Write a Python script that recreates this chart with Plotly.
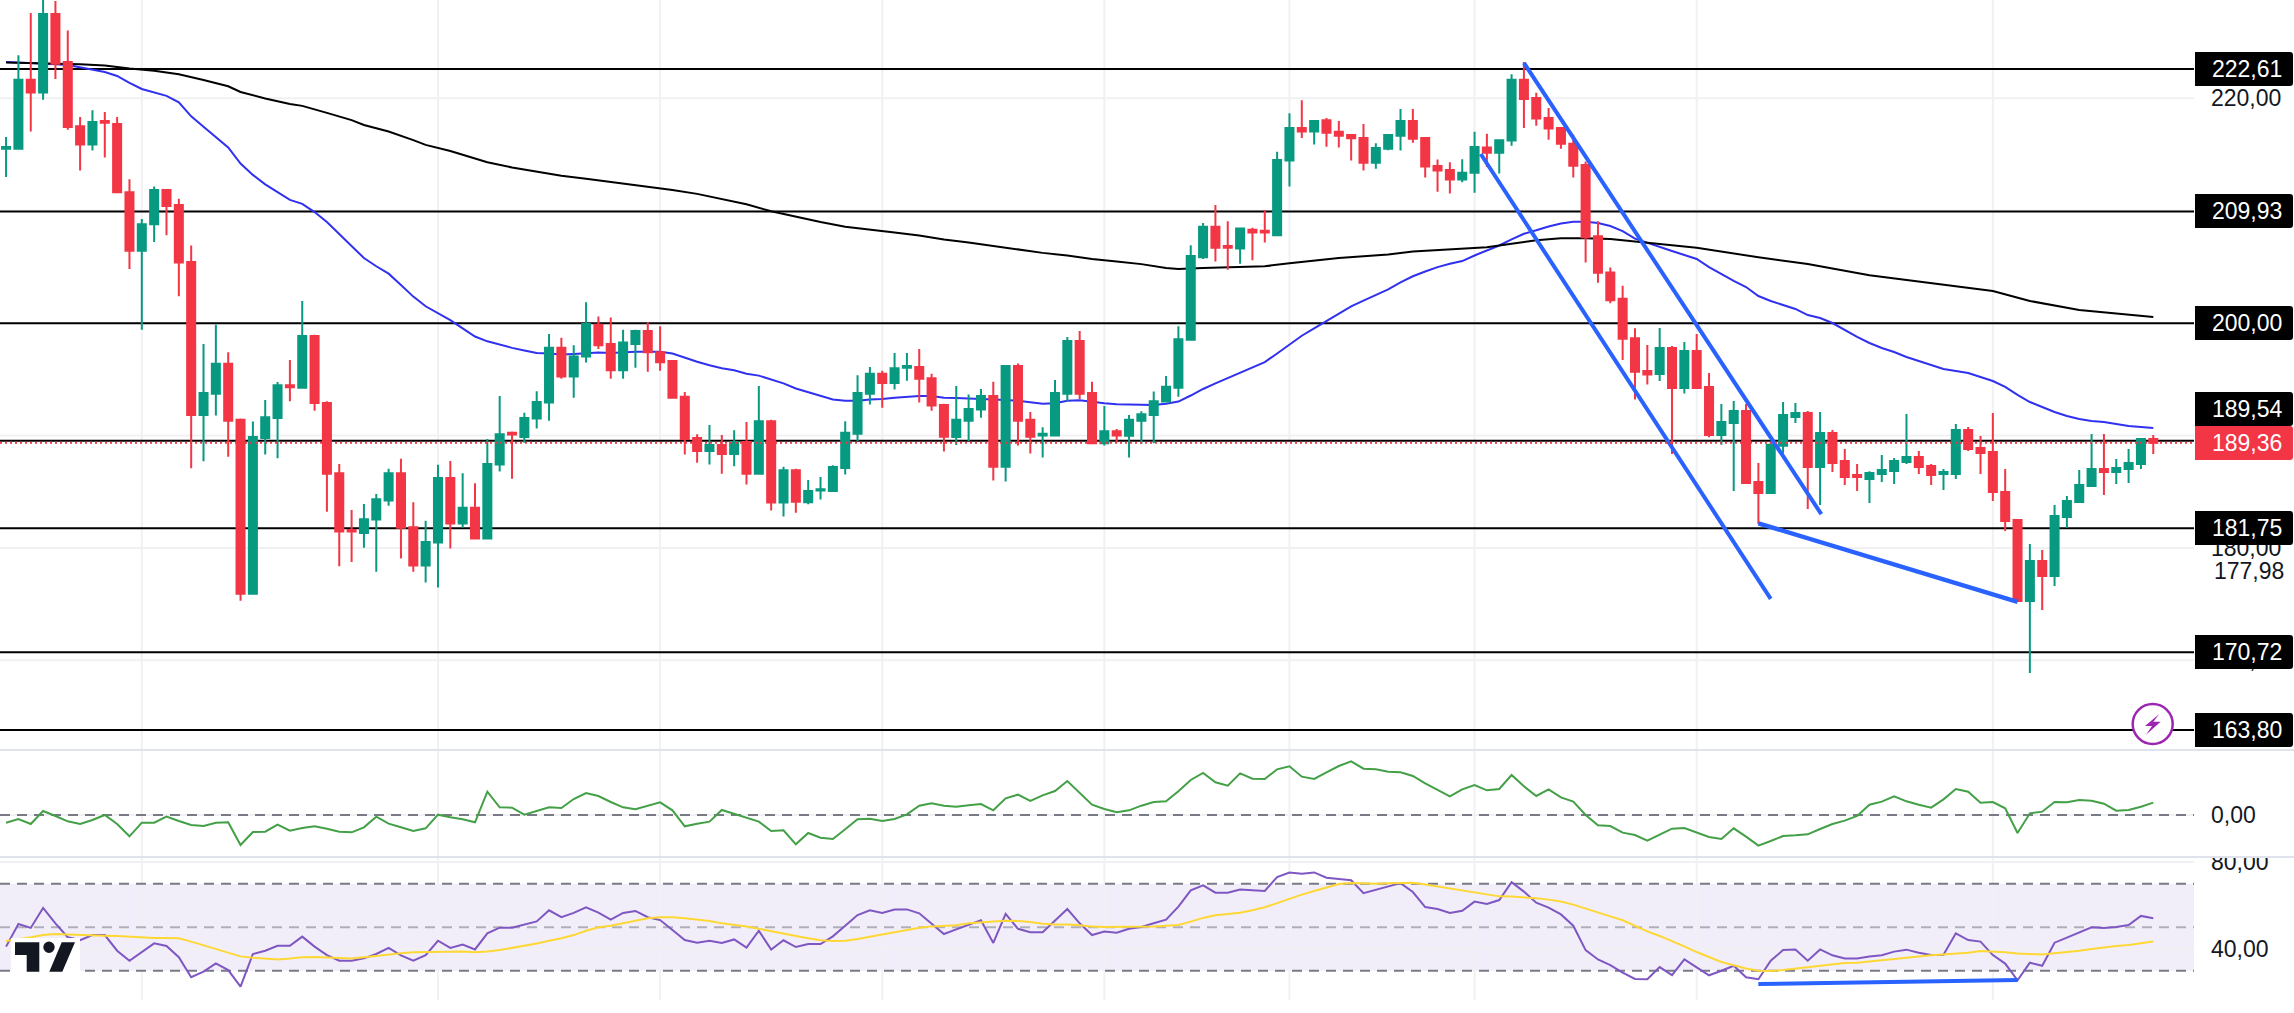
import plotly.graph_objects as go

# ---------- data ----------
candle_index = list(range(175))
opens = [215.51,215.51,221.65,220.53,227.51,223.23,217.52,215.90,217.98,217.71,
211.65,206.44,208.80,211.85,210.50,205.44,191.82,193.71,196.38,191.40,
175.93,189.78,191.55,194.48,194.25,198.85,192.90,186.65,181.60,181.33,
182.52,184.22,186.65,181.83,178.44,180.48,186.23,182.18,183.57,180.83,
187.42,190.24,189.86,191.51,192.94,197.80,195.26,197.03,199.85,198.15,
195.80,198.15,199.31,197.42,196.64,193.44,189.78,188.62,189.16,188.35,
189.43,186.61,191.28,184.03,186.92,184.07,185.11,185.07,187.12,190.16,
193.71,195.49,194.68,196.03,196.10,195.10,192.71,189.86,191.32,192.32,
193.52,187.23,196.18,191.40,190.01,190.01,193.71,198.42,193.79,189.31,
190.39,189.97,191.32,191.82,193.02,194.25,198.53,205.87,208.57,206.87,
206.64,208.30,208.22,207.83,214.47,217.36,217.05,218.06,217.02,216.74,
216.47,214.28,215.51,216.67,217.98,216.47,213.97,213.62,212.77,213.39,
215.63,215.16,216.24,221.65,220.03,218.25,217.36,215.97,214.08,207.72,
204.51,202.16,198.65,195.74,195.48,197.79,194.23,197.52,194.32,190.05,
191.12,192.18,185.87,184.89,189.10,191.65,192.00,187.20,190.23,187.73,
186.49,186.13,186.58,186.84,187.65,188.09,187.29,186.58,186.58,190.49,
188.89,188.54,184.98,182.49,175.28,178.84,177.50,182.75,184.09,185.51,
187.02,186.76,187.02,187.47,189.69]
highs = [216.55,223.84,227.59,229.50,228.67,226.04,218.33,218.94,218.79,218.33,
212.81,209.26,212.15,211.85,211.07,206.91,198.15,199.85,197.42,191.51,
191.24,193.17,194.76,196.72,201.97,198.96,193.06,187.46,183.37,183.91,
184.80,187.04,187.93,184.07,182.41,187.39,187.73,186.65,185.76,189.70,
193.52,190.36,192.02,193.94,199.04,198.69,198.03,201.85,200.58,200.50,
199.42,199.42,200.08,199.73,196.64,193.87,190.12,190.94,190.05,190.47,
191.21,194.41,191.40,187.23,187.04,186.04,186.31,187.35,191.28,195.37,
196.10,195.76,197.34,197.34,197.69,195.49,192.83,194.41,193.64,194.14,
194.79,196.22,196.41,192.09,190.74,194.95,198.77,199.31,194.79,192.63,
190.59,191.82,192.17,193.91,195.29,199.73,206.94,208.91,210.50,209.07,
208.45,208.49,210.07,215.24,218.67,219.83,218.06,218.25,217.98,216.74,
217.71,216.01,216.78,219.06,219.06,216.55,214.55,214.31,214.58,217.02,
216.86,216.32,222.15,223.23,220.49,219.14,217.40,216.78,214.39,209.07,
204.94,203.32,199.54,198.06,199.57,197.97,198.32,199.03,195.56,192.81,
193.07,192.81,187.56,189.45,192.98,192.90,192.18,192.09,190.49,188.80,
187.47,186.82,188.27,188.00,191.92,188.62,187.47,187.02,191.03,190.76,
189.96,192.00,187.02,182.49,180.35,179.82,183.82,184.62,186.93,190.14,
190.14,187.91,188.80,189.78,190.05]
lows = [213.00,215.51,217.05,219.87,221.72,217.21,213.58,215.36,214.74,211.65,
204.82,199.42,207.22,207.83,202.39,187.08,187.70,191.78,188.12,175.31,
175.85,188.31,187.97,193.06,194.21,192.21,183.22,178.36,178.74,180.02,
177.89,183.76,179.05,177.89,176.93,176.47,179.94,181.79,180.75,180.79,
186.81,186.15,189.35,190.63,191.32,195.06,193.37,196.49,197.69,195.06,
195.06,196.03,195.68,195.76,193.37,188.31,187.58,187.42,186.61,187.27,
185.65,186.61,183.33,182.79,183.14,183.88,184.30,184.99,186.54,189.51,
192.75,192.48,194.10,194.87,192.94,192.21,188.58,189.16,189.51,191.59,
186.00,185.92,189.12,188.39,188.04,190.01,193.06,193.25,189.31,189.12,
189.39,188.04,189.24,189.31,193.02,193.44,198.53,205.71,205.48,204.75,
205.29,205.60,207.18,207.72,212.15,216.47,215.90,215.70,215.63,214.47,
213.58,213.74,215.39,215.36,216.05,212.96,211.69,211.54,212.54,211.61,
213.89,213.31,215.78,217.36,217.56,216.32,215.51,212.96,205.40,203.59,
201.77,196.72,193.21,194.53,194.85,188.36,193.73,194.17,189.84,189.19,
185.07,185.69,182.13,184.89,188.39,191.12,183.46,183.82,186.76,185.60,
185.07,184.00,185.87,185.69,187.47,186.58,185.60,185.15,186.13,188.62,
186.58,184.18,181.51,175.19,168.87,174.48,176.61,181.77,184.09,185.51,
184.71,185.69,185.78,187.02,188.36]
closes = [215.67,221.65,220.53,227.51,223.07,217.44,215.90,217.90,217.83,211.65,
206.44,208.80,211.85,210.42,205.40,191.82,193.79,196.38,191.32,175.93,
189.86,191.63,194.48,194.29,198.85,192.90,186.61,181.45,181.45,182.56,
184.34,186.65,181.79,178.44,180.52,186.23,182.18,183.57,180.83,187.46,
190.12,190.09,191.55,192.98,197.80,195.26,197.03,199.92,198.03,195.80,
198.27,199.31,197.42,196.53,193.37,189.70,188.62,189.16,188.35,189.43,
186.61,191.28,184.03,186.92,184.11,185.07,185.22,187.19,190.24,193.79,
195.49,194.68,195.99,196.18,195.06,192.67,189.89,191.40,192.36,193.52,
187.23,196.18,191.32,189.89,190.16,193.79,198.42,193.71,189.31,190.39,
190.01,191.40,191.90,193.06,194.33,198.57,205.98,208.57,206.71,206.71,
208.41,208.06,208.06,214.51,217.36,217.05,217.98,216.94,216.67,216.44,
214.28,215.59,216.74,217.98,216.40,213.93,213.58,212.77,213.39,215.67,
215.16,216.28,221.65,219.95,218.21,217.32,215.97,214.00,207.64,204.48,
202.04,198.61,195.68,195.42,197.79,194.23,197.52,194.23,190.05,191.20,
192.18,185.78,184.89,189.19,191.83,192.00,187.20,190.23,187.56,186.31,
186.31,186.67,186.93,187.73,188.09,187.20,186.49,186.76,190.49,188.80,
188.45,184.98,182.40,175.28,178.84,177.50,182.84,184.18,185.60,187.02,
186.76,187.11,187.56,189.69,189.36]

ma50 = [223.23,223.19,223.11,223.07,223.03,222.96,222.76,222.57,222.34,221.99,
221.37,220.83,220.53,220.22,219.64,218.40,217.48,216.59,215.63,214.20,
213.19,212.35,211.65,210.96,210.61,209.88,208.99,207.91,206.83,205.79,
205.06,204.40,203.40,202.36,201.50,200.89,200.27,199.54,198.81,198.38,
198.07,197.80,197.57,197.34,197.30,197.22,197.26,197.34,197.38,197.34,
197.42,197.46,197.46,197.46,197.30,196.91,196.57,196.26,195.99,195.80,
195.49,195.33,194.95,194.64,194.18,193.87,193.52,193.21,193.10,193.10,
193.21,193.25,193.37,193.44,193.52,193.52,193.37,193.33,193.29,193.25,
193.25,193.17,193.10,192.98,192.83,192.87,193.10,193.13,192.98,192.87,
192.79,192.75,192.71,192.71,192.83,193.02,193.56,194.14,194.64,195.10,
195.57,196.03,196.53,197.30,198.11,198.88,199.54,200.19,200.89,201.50,
202.01,202.51,203.01,203.63,204.17,204.59,204.98,205.29,205.52,206.02,
206.48,206.91,207.45,207.95,208.26,208.60,208.87,209.03,209.03,208.91,
208.64,208.18,207.52,207.13,206.77,206.42,206.06,205.71,204.99,204.37,
203.75,203.21,202.41,201.97,201.61,201.26,200.72,200.46,200.01,199.39,
198.77,198.23,197.79,197.43,196.99,196.63,196.28,195.92,195.74,195.56,
195.21,194.85,194.32,193.61,192.98,192.54,192.09,191.74,191.47,191.29,
191.20,191.03,190.85,190.76,190.67]

ma200_index = [0,2,4,6,8,10,12,14,16,18,19,21,23,24,26,28,29,31,33,34,36,38,39,41,43,45,47,49,51,53,54,56,58,60,62,64,66,68,70,72,74,76,78,80,82,84,86,88,90,92,94,95,97,100,102,104,106,108,110,112,114,116,118,120,122,124,126,128,130,132,137,142,146,151,156,161,164,168,174]
ma200 = [223.19,223.15,223.11,223.03,222.92,222.65,222.46,222.15,221.64,221.07,220.57,219.99,219.49,219.33,218.71,218.06,217.63,217.05,216.28,215.86,215.32,214.62,214.31,213.85,213.47,213.12,212.85,212.58,212.31,212.04,211.85,211.50,211.04,210.57,209.95,209.45,208.99,208.57,208.34,208.06,207.79,207.45,207.18,206.87,206.60,206.25,206.02,205.71,205.48,205.25,204.90,204.82,204.90,204.98,205.06,205.33,205.56,205.79,205.94,206.10,206.37,206.48,206.60,206.75,207.06,207.37,207.56,207.56,207.49,207.25,206.71,205.86,205.26,204.26,203.54,202.86,201.97,201.17,200.55]

momentum = [-0.23,-0.12,-0.27,0.12,-0.03,-0.19,-0.27,-0.15,0.00,-0.27,
-0.64,-0.23,-0.23,-0.05,-0.18,-0.30,-0.33,-0.23,-0.22,-0.90,
-0.51,-0.50,-0.29,-0.47,-0.39,-0.34,-0.41,-0.50,-0.52,-0.37,
-0.05,-0.26,-0.37,-0.48,-0.40,0.01,-0.07,-0.13,-0.22,0.70,
0.23,0.22,0.01,0.12,0.23,0.21,0.48,0.66,0.57,0.39,
0.23,0.17,0.27,0.38,0.14,-0.34,-0.26,-0.20,0.15,0.04,
-0.07,-0.20,-0.48,-0.46,-0.88,
-0.54,-0.68,-0.72,-0.43,-0.13,-0.11,-0.18,-0.12,0.02,0.28,
0.35,0.28,0.25,0.29,0.33,0.14,0.50,0.61,0.42,0.59,
0.72,1.02,0.66,0.31,0.18,0.08,0.14,0.28,0.39,0.41,
0.71,1.05,1.26,0.98,0.88,1.25,1.09,1.08,1.37,1.46,
1.15,1.08,1.28,1.47,1.61,1.39,1.37,1.30,1.28,1.17,
0.95,0.75,0.56,0.77,0.90,0.74,0.78,1.20,0.86,0.57,
0.77,0.53,0.40,0.00,-0.31,-0.33,-0.53,-0.60,-0.77,-0.59,
-0.41,-0.39,-0.53,-0.66,-0.72,-0.40,-0.65,-0.92,-0.78,-0.63,
-0.61,-0.58,-0.42,-0.27,-0.17,-0.03,0.31,0.40,0.56,0.41,
0.31,0.22,0.47,0.78,0.70,0.37,0.39,0.20,-0.54,0.05,
0.10,0.39,0.38,0.45,0.43,0.34,0.13,0.15,0.25,0.37]

rsi = [41.1,51.5,49.7,58.9,51.8,45.4,44.1,46.4,46.4,39.2,
34.6,38.6,42.6,41.4,36.2,27.0,29.6,33.4,30.3,22.7,
37.7,39.2,41.5,41.5,45.7,41.1,37.2,34.6,34.6,35.7,
37.7,40.5,37.1,34.6,37.2,43.8,40.5,42.0,39.8,47.2,
49.8,49.8,51.3,52.7,57.8,54.6,56.6,59.2,56.7,53.5,
56.6,57.5,54.6,53.3,48.7,44.1,42.9,43.8,42.8,44.4,
40.6,48.4,39.7,44.0,40.9,
42.3,42.3,45.8,50.7,55.6,57.8,56.6,58.2,58.2,56.4,
51.6,46.9,49.0,51.0,53.2,42.8,56.1,49.3,47.7,47.7,
53.0,58.4,51.8,46.4,48.0,47.5,49.3,50.1,51.8,53.5,
59.5,67.0,69.3,65.9,65.9,67.4,67.0,66.7,73.1,75.2,
74.6,75.2,72.8,72.2,71.6,65.7,67.3,68.8,70.3,66.2,
59.3,58.4,56.6,57.6,61.8,60.7,62.5,70.7,66.4,61.3,
59.0,55.9,50.7,39.5,35.2,32.6,29.1,26.2,26.1,31.7,
28.0,35.2,31.6,27.9,30.0,32.3,27.0,26.1,34.6,39.5,
39.8,34.6,39.8,37.1,35.6,35.6,36.5,37.1,38.8,39.7,
38.3,37.2,37.4,47.2,44.1,43.4,37.2,33.3,25.6,33.7,
32.3,42.9,45.2,47.7,50.0,49.7,50.1,51.0,55.2,54.1]

rsi_ma = [43.7,44.4,45.4,46.4,46.9,46.7,46.4,46.1,46.1,46.0,
45.7,45.1,45.1,45.1,44.9,43.4,41.7,39.8,38.3,36.6,
36.0,35.6,35.2,35.6,36.2,36.3,36.0,35.6,35.6,36.2,
36.9,37.4,38.0,38.5,38.6,38.8,38.8,38.8,38.5,38.8,
39.5,40.5,41.4,42.5,43.8,44.9,46.4,48.4,50.0,50.7,
51.8,52.9,54.1,54.6,54.6,54.1,53.6,52.9,51.8,51.2,
50.3,49.3,48.1,47.2,46.0,
44.9,44.0,43.7,43.8,44.6,45.7,46.6,47.7,48.7,49.8,
50.4,50.6,50.9,51.8,52.4,52.7,53.0,52.9,52.4,51.6,
51.3,51.3,50.9,50.3,50.1,50.1,50.1,50.1,50.3,50.7,
51.0,52.6,54.3,55.5,56.2,56.7,57.8,59.2,61.1,63.1,
65.0,66.7,68.4,69.9,70.3,70.0,70.0,70.2,70.5,70.5,
69.7,68.8,67.7,66.8,66.1,65.0,64.2,64.1,63.8,63.3,
62.7,61.8,60.4,58.5,56.7,55.0,53.2,50.6,48.1,46.0,
43.7,41.2,38.6,36.3,34.0,32.5,31.0,30.0,29.9,30.3,
31.0,31.7,32.5,33.0,33.6,33.7,34.2,34.8,35.2,35.7,
36.5,37.1,37.5,38.2,38.3,39.1,38.9,38.5,37.9,37.7,
37.5,38.0,38.5,39.2,40.0,40.8,41.4,41.8,42.6,43.4]

levels = [222.61, 209.93, 200.00, 189.54, 181.75, 170.72, 163.80]
last_price = 189.36
level_labels = ["222,61", "209,93", "200,00", "189,54", "181,75", "170,72", "163,80"]
last_label = "189,36"
marker_label = "177,98"
marker_value = 177.98

price_ticks = [170, 180, 190, 200, 210, 220]
momentum_ticks = [0]
rsi_ticks = [40, 80]
rsi_bands = [70, 50, 30]
time_ticks = [11, 35, 53, 71, 89, 104, 119, 137, 161]

channel_upper_x, channel_upper_y = [123.0, 147.1], [223.15, 183.0]
channel_lower_x, channel_lower_y = [119.5, 143.0], [215.05, 175.46]
price_div_x, price_div_y = [142.0, 163.0], [182.19, 175.2]
rsi_div_x, rsi_div_y = [142.0, 163.0], [23.9, 25.7]

# ---------- styling ----------
W, H = 2294, 1013
GREEN, RED = "#089981", "#f23645"
INK = "#131722"
FONT = "Liberation Sans"
GRID = "#f1f1f4"
SEP = "#e0e3eb"
TREND = "#2962ff"


def fx(p):
    return p / W


def fy(p):
    return 1 - p / H


def path_px(points, close=True):
    d = "M " + " L ".join(f"{fx(x):.5f},{fy(y):.5f}" for x, y in points)
    return d + (" Z" if close else "")


def paper_rect(x0, y0, x1, y1, color, layer="above"):
    return dict(type="rect", xref="paper", yref="paper", x0=fx(x0), x1=fx(x1),
                y0=fy(y0), y1=fy(y1), fillcolor=color, line_width=0, layer=layer)


def hline(xref, yref, value, color, width=2, dash="solid", layer="below"):
    return dict(type="line", xref=f"{xref} domain", x0=0, x1=1, yref=yref, y0=value, y1=value,
                line=dict(color=color, width=width, dash=dash), layer=layer)


fig = go.Figure()

# moving averages live on the base axes so the candles (overlay axes) sit above them
fig.add_trace(go.Scatter(x=candle_index, y=ma50, mode="lines",
                         line=dict(color="#3030f0", width=2), xaxis="x", yaxis="y"))
fig.add_trace(go.Scatter(x=ma200_index, y=ma200, mode="lines",
                         line=dict(color="#000000", width=2), xaxis="x", yaxis="y"))
fig.add_trace(go.Candlestick(
    x=candle_index, open=opens, high=highs, low=lows, close=closes,
    increasing=dict(line=dict(color=GREEN, width=2), fillcolor=GREEN),
    decreasing=dict(line=dict(color=RED, width=2), fillcolor=RED),
    xaxis="x", yaxis="y4"))
for tx, ty, w in [(channel_upper_x, channel_upper_y, 4), (channel_lower_x, channel_lower_y, 4),
                  (price_div_x, price_div_y, 4.5)]:
    fig.add_trace(go.Scatter(x=tx, y=ty, mode="lines", line=dict(color=TREND, width=w),
                             xaxis="x", yaxis="y4"))

fig.add_trace(go.Scatter(x=candle_index, y=momentum, mode="lines",
                         line=dict(color="#43a047", width=2), xaxis="x2", yaxis="y2"))
fig.add_trace(go.Scatter(x=candle_index, y=rsi, mode="lines",
                         line=dict(color="#7e57c2", width=2), xaxis="x3", yaxis="y3"))
fig.add_trace(go.Scatter(x=candle_index, y=rsi_ma, mode="lines",
                         line=dict(color="#fdd835", width=2), xaxis="x3", yaxis="y3"))
fig.add_trace(go.Scatter(x=rsi_div_x, y=rsi_div_y, mode="lines",
                         line=dict(color=TREND, width=4), xaxis="x3", yaxis="y3"))

shapes = []
# RSI band shading first, grid over it, level lines over the grid
shapes.append(dict(type="rect", xref="x3 domain", x0=0, x1=1, yref="y3",
                   y0=rsi_bands[2], y1=rsi_bands[0], fillcolor="rgba(126,87,194,0.1)",
                   line_width=0, layer="below"))
for xr, yr in (("x", "y"), ("x2", "y2"), ("x3", "y3")):
    for t in time_ticks:
        shapes.append(dict(type="line", xref=xr, x0=t, x1=t, yref=f"{yr} domain", y0=0, y1=1,
                           line=dict(color=GRID, width=2), layer="below"))
for t in price_ticks:
    shapes.append(hline("x", "y", t, GRID))
for t in momentum_ticks:
    shapes.append(hline("x2", "y2", t, GRID))
for t in rsi_ticks:
    shapes.append(hline("x3", "y3", t, GRID))

for lv in levels:
    shapes.append(hline("x", "y", lv, "#000000"))
shapes.append(hline("x", "y", last_price, RED, dash="2px,3px", layer="above"))
shapes.append(hline("x2", "y2", 0, "#787b86", dash="10px,7px"))
for b, col in zip(rsi_bands, ["#787b86", "rgba(120,123,134,0.55)", "#787b86"]):
    shapes.append(hline("x3", "y3", b, col, dash="10px,7px"))

# top of the 80,00 label is clipped by the pane edge
shapes.append(paper_rect(2194, 838, W, 856, "#ffffff"))
# pane separators
for py in (750, 857):
    shapes.append(paper_rect(0, py - 1, W, py + 1, SEP))

# lightning badge
cx, cy, r = 2152.7, 724, 20
shapes.append(dict(type="circle", xref="paper", yref="paper", x0=fx(cx - r), x1=fx(cx + r),
                   y0=fy(cy + r), y1=fy(cy - r), fillcolor="#ffffff",
                   line=dict(color="#9c27b0", width=2.5), layer="above"))
bolt = [(2159.3, 714), (2145, 726), (2152, 726), (2146, 734.7), (2160.7, 721.7), (2153.3, 721.7)]
shapes.append(dict(type="path", xref="paper", yref="paper", path=path_px(bolt),
                   fillcolor="#9c27b0", line_width=0, layer="above"))

# logo
shapes.append(paper_rect(11, 938, 80, 972, "#ffffff"))
logo_t = [(15, 942.3), (39.3, 942.3), (39.3, 971.7), (26.7, 971.7), (26.7, 955), (15, 955)]
logo_s = [(61.7, 942.3), (75, 942.3), (62.3, 971.7), (49.3, 971.7)]
shapes.append(dict(type="path", xref="paper", yref="paper", path=path_px(logo_t),
                   fillcolor=INK, line_width=0, layer="above"))
shapes.append(dict(type="path", xref="paper", yref="paper", path=path_px(logo_s),
                   fillcolor=INK, line_width=0, layer="above"))
shapes.append(dict(type="circle", xref="paper", yref="paper", x0=fx(43.3), x1=fx(54.7),
                   y0=fy(953), y1=fy(941.6), fillcolor=INK, line_width=0, layer="above"))

annotations = []


def badge(text, center, color):
    x0, x1, y0, y1, rad = 2195, 2293, center - 17, center + 17, 3
    d = (f"M {fx(x0):.5f},{fy(y0):.5f} L {fx(x1 - rad):.5f},{fy(y0):.5f} "
         f"Q {fx(x1):.5f},{fy(y0):.5f} {fx(x1):.5f},{fy(y0 + rad):.5f} "
         f"L {fx(x1):.5f},{fy(y1 - rad):.5f} "
         f"Q {fx(x1):.5f},{fy(y1):.5f} {fx(x1 - rad):.5f},{fy(y1):.5f} "
         f"L {fx(x0):.5f},{fy(y1):.5f} Z")
    shapes.append(dict(type="path", xref="paper", yref="paper", path=d,
                       fillcolor=color, line_width=0, layer="above"))
    annotations.append(dict(text=text, xref="paper", yref="paper", x=fx(2247), y=fy(center),
                            xanchor="center", yanchor="middle", showarrow=False,
                            font=dict(family=FONT, size=23, color="#ffffff")))


for label, center in zip(level_labels, [69, 211, 323, 409, 528, 652, 730]):
    badge(label, center, "#000000")
badge(last_label, 443, RED)

annotations.append(dict(text=marker_label, xref="paper", yref="y", x=fx(2212), y=marker_value,
                        xanchor="left", yanchor="middle", showarrow=False,
                        font=dict(family=FONT, size=23, color=INK)))

x_right = 2194 / W
xaxis_common = dict(range=[-0.492, 177.3], domain=[0, x_right], automargin=False,
                    showticklabels=False, ticks="", showgrid=False,
                    zeroline=False, showline=False, rangeslider=dict(visible=False))
yaxis_common = dict(side="right", tickmode="array", showgrid=False, automargin=False,
                    zeroline=False, showline=False, ticks="", tickformat=".2f",
                    ticklabelstandoff=16,
                    tickfont=dict(family=FONT, size=23, color=INK))
price_range = [162.02, 228.75]

fig.update_layout(
    width=W, height=H, margin=dict(l=0, r=0, t=0, b=0, autoexpand=False),
    paper_bgcolor="#ffffff", plot_bgcolor="#ffffff",
    showlegend=False, hovermode=False, separators=", ",
    boxgap=0.35, boxgroupgap=0,
    xaxis=dict(**xaxis_common, anchor="y"),
    xaxis2=dict(**xaxis_common, matches="x", anchor="y2"),
    xaxis3=dict(**xaxis_common, matches="x", anchor="y3"),
    yaxis=dict(**yaxis_common, range=price_range, tickvals=price_ticks, anchor="x",
               domain=[fy(750), 1]),
    yaxis4=dict(range=price_range, overlaying="y", side="right", visible=False, anchor="x",
                automargin=False),
    yaxis2=dict(**yaxis_common, range=[-1.26, 1.95], tickvals=momentum_ticks, anchor="x2",
                domain=[fy(857), fy(750)]),
    yaxis3=dict(**yaxis_common, range=[16.55, 82.3], tickvals=rsi_ticks, anchor="x3",
                domain=[fy(1000), fy(857)]),
    shapes=shapes, annotations=annotations,
)

fig.write_html("out.html", config={"displayModeBar": False},
               post_script=("var d=document.getElementById('{plot_id}');"
                            "document.body.style.margin='0';document.body.style.overflow='hidden';"
                            "d.style.position='fixed';d.style.left='0';d.style.top='0';"))
